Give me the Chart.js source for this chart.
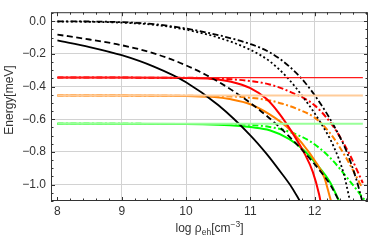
<!DOCTYPE html>
<html><head><meta charset="utf-8">
<script src="https://cdn.jsdelivr.net/npm/chart.js@4.4.0/dist/chart.umd.min.js"></script>
<style>html,body{margin:0;padding:0;background:#fff;overflow:hidden}canvas{display:block}</style>
</head><body><canvas id="c" width="374" height="244"></canvas>
<script>
// ---- tick labels ----
const xTicks = [8, 9, 10, 11, 12];
const yTicks = [-1.0, -0.8, -0.6, -0.4, -0.2, 0.0];

// ---- series (log rho_eh, energy meV) ----
const blackSolidX = [8.0, 8.5, 9.0, 9.5, 10.0, 10.5, 11.0, 11.25, 11.5, 11.65, 11.77];
const blackSolidY = [-0.118, -0.158, -0.208, -0.278, -0.373, -0.513, -0.698, -0.81, -0.938, -1.02, -1.1];

const blackDashedX = [8.0, 8.5, 9.0, 9.5, 10.0, 10.5, 11.0, 11.5, 12.0, 12.25, 12.38];
const blackDashedY = [-0.082, -0.112, -0.147, -0.197, -0.27, -0.37, -0.50, -0.665, -0.875, -1.005, -1.1];

const blackDottedX = [8.0, 8.5, 9.0, 9.5, 10.0, 10.5, 11.0, 11.3, 11.57, 11.85, 12.1, 12.3, 12.45, 12.55];
const blackDottedY = [-0.002, -0.004, -0.009, -0.022, -0.052, -0.10, -0.175, -0.245, -0.343, -0.48, -0.625, -0.77, -0.93, -1.1];

const blackDashDotX = [8.0, 8.5, 9.0, 9.5, 10.0, 10.5, 11.0, 11.3, 11.6, 11.85, 12.1, 12.3, 12.5, 12.65, 12.74];
const blackDashDotY = [-0.001, -0.002, -0.006, -0.018, -0.045, -0.085, -0.14, -0.19, -0.275, -0.375, -0.51, -0.64, -0.80, -0.97, -1.1];

const redLevelX = [8.0, 12.75];
const redLevelY = [-0.345, -0.345];
const redSolidX = [8.0, 9.0, 10.0, 10.4, 10.7, 11.0, 11.25, 11.45, 11.65, 11.85, 11.97, 12.07, 12.1];
const redSolidY = [-0.345, -0.345, -0.347, -0.353, -0.37, -0.41, -0.475, -0.565, -0.68, -0.815, -0.92, -1.06, -1.12];
const redDashDotX = [8.0, 10.0, 10.5, 11.0, 11.3, 11.62, 12.0, 12.3, 12.55, 12.75];
const redDashDotY = [-0.345, -0.346, -0.351, -0.366, -0.387, -0.432, -0.515, -0.65, -0.82, -0.99];

const orangeLevelX = [8.0, 12.75];
const orangeLevelY = [-0.455, -0.455];
const orangeSolidX = [8.0, 9.0, 10.0, 10.4, 10.7, 11.0, 11.3, 11.57, 11.8, 12.03, 12.15, 12.24, 12.27];
const orangeSolidY = [-0.455, -0.455, -0.457, -0.463, -0.478, -0.508, -0.57, -0.648, -0.745, -0.87, -0.955, -1.08, -1.12];
const orangeDashDotX = [8.0, 10.5, 11.0, 11.3, 11.5, 11.75, 12.0, 12.25, 12.5, 12.74];
const orangeDashDotY = [-0.455, -0.458, -0.468, -0.485, -0.505, -0.54, -0.59, -0.69, -0.843, -1.02];

const greenLevelX = [8.0, 12.75];
const greenLevelY = [-0.628, -0.628];
const greenSolidX = [8.0, 10.0, 10.5, 10.84, 11.0, 11.3, 11.6, 11.82, 12.03, 12.24, 12.38];
const greenSolidY = [-0.628, -0.629, -0.633, -0.641, -0.648, -0.667, -0.72, -0.785, -0.875, -0.985, -1.1];
const greenDashDotX = [8.0, 10.5, 11.0, 11.3, 11.57, 11.93, 12.24, 12.5, 12.79];
const greenDashDotY = [-0.628, -0.629, -0.634, -0.647, -0.672, -0.735, -0.835, -0.955, -1.1];

const pts = (xs, ys) => xs.map((x, i) => ({x, y: ys[i]}));
const DASH = [6, 3.5], DOT = [2, 2.5], DASHDOT = [6, 2.5, 2, 2.5];
function ds(xs, ys, color, width, dash) {
  return {data: pts(xs, ys), borderColor: color, borderWidth: width, borderDash: dash || [],
    pointRadius: 0, fill: false, cubicInterpolationMode: 'monotone', borderCapStyle: 'butt'};
}

const datasets = [
  ds(redLevelX, redLevelY, '#ff1a1a', 1.3),
  ds(orangeLevelX, orangeLevelY, '#ffcc99', 2),
  ds(greenLevelX, greenLevelY, '#99ff99', 2),
  ds(blackSolidX, blackSolidY, '#000000', 1.8),
  ds(blackDashedX, blackDashedY, '#000000', 1.8, DASH),
  ds(blackDottedX, blackDottedY, '#000000', 1.8, DOT),
  ds(blackDashDotX, blackDashDotY, '#000000', 1.8, DASHDOT),
  ds(redSolidX, redSolidY, '#ff0000', 2),
  ds(redDashDotX, redDashDotY, '#ff0000', 2, DASHDOT),
  ds(orangeSolidX, orangeSolidY, '#ff8000', 2),
  ds(orangeDashDotX, orangeDashDotY, '#ff8000', 2, DASHDOT),
  ds(greenSolidX, greenSolidY, '#00ff00', 2),
  ds(greenDashDotX, greenDashDotY, '#00ff00', 2, DASHDOT)
];

const FONT = '"Liberation Sans", Arial, sans-serif';
const TXT = '#333';
const GRID = '#d2d2d2';
const FRAME = '#333';

const framePlugin = {
  id: 'frame',
  afterDatasetsDraw(chart) {
    const {ctx, chartArea: a, scales: {x, y}} = chart;
    ctx.save();
    ctx.strokeStyle = FRAME; ctx.lineWidth = 1;
    ctx.strokeRect(a.left + 0.5, a.top + 0.5, a.right - a.left - 1, a.bottom - a.top - 1);
    ctx.beginPath();
    for (let k = 0; k <= 24; k++) {
      const v = 8 + k * 0.2;
      if (v > x.max) break;
      const len = (k % 5 === 0) ? 4 : 2.5;
      const p = Math.round(x.getPixelForValue(v)) + 0.5;
      ctx.moveTo(p, a.bottom); ctx.lineTo(p, a.bottom - len);
      ctx.moveTo(p, a.top); ctx.lineTo(p, a.top + len);
    }
    for (let k = -22; k <= 1; k++) {
      const v = k * 0.05;
      if (v < y.min || v > y.max) continue;
      const len = (k % 4 === 0) ? 4 : 2.5;
      const p = Math.round(y.getPixelForValue(v)) + 0.5;
      ctx.moveTo(a.left, p); ctx.lineTo(a.left + len, p);
      ctx.moveTo(a.right, p); ctx.lineTo(a.right - len, p);
    }
    ctx.stroke();

    ctx.fillStyle = TXT;
    ctx.textBaseline = 'alphabetic';
    const parts = [['log \u03C1', 12, 0], ['eh', 8.5, 3], ['[cm', 12, 0], ['\u22123', 8.5, -5], [']', 12, 0]];
    let w = 0;
    parts.forEach(p => { ctx.font = p[1] + 'px ' + FONT; w += ctx.measureText(p[0]).width; });
    let cx = 209.5 - w / 2;
    const base = 232;
    parts.forEach(p => { ctx.font = p[1] + 'px ' + FONT; ctx.fillText(p[0], cx, base + p[2]); cx += ctx.measureText(p[0]).width; });

    ctx.translate(13, 100);
    ctx.rotate(-Math.PI / 2);
    ctx.font = '12px ' + FONT;
    ctx.textAlign = 'center';
    ctx.fillText('Energy[meV]', 0, 0);
    ctx.restore();
  }
};

new Chart(document.getElementById('c'), {
  type: 'line',
  data: {datasets},
  options: {
    responsive: false, animation: false, devicePixelRatio: 1,
    layout: {padding: {left: 0, right: 6, top: 4, bottom: 0}},
    plugins: {legend: {display: false}, tooltip: {enabled: false}},
    scales: {
      x: {
        type: 'linear', min: 7.9, max: 12.83,
        afterBuildTicks: s => { s.ticks = xTicks.map(v => ({value: v})); },
        afterFit: s => { s.height = 43; },
        ticks: {font: {family: FONT, size: 12}, color: TXT, padding: 3, maxRotation: 0, autoSkip: false,
          callback: v => String(v)},
        grid: {color: c => (c.tick && c.tick.value === 8) ? 'rgba(0,0,0,0)' : GRID, lineWidth: 1, drawTicks: false},
        border: {display: false}
      },
      y: {
        type: 'linear', min: -1.1, max: 0.055,
        afterBuildTicks: s => { s.ticks = yTicks.map(v => ({value: v})); },
        afterFit: s => { s.width = 51; },
        ticks: {font: {family: FONT, size: 12}, color: TXT, padding: 5, autoSkip: false,
          callback: v => (v < 0 ? '\u2212' : '') + Math.abs(v).toFixed(1)},
        grid: {color: GRID, lineWidth: 1, drawTicks: false},
        border: {display: false}
      }
    }
  },
  plugins: [framePlugin]
});
</script></body></html>
